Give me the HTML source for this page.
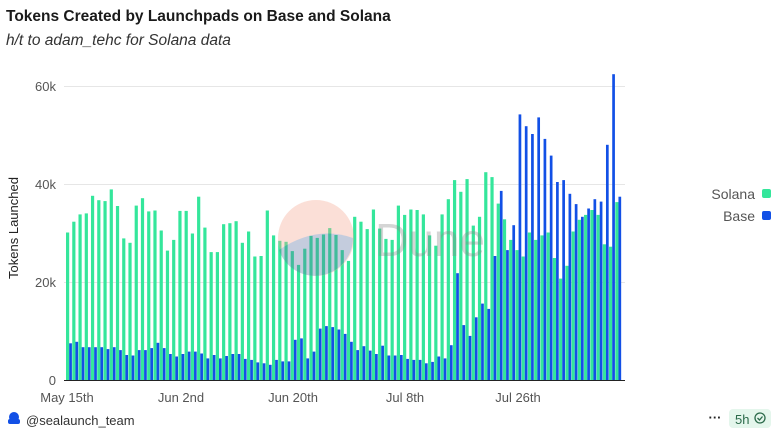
<!DOCTYPE html>
<html><head><meta charset="utf-8"><style>
body{margin:0;background:#fff;width:778px;height:437px;overflow:hidden;font-family:"Liberation Sans",sans-serif;}
</style></head><body>
<svg width="778" height="437" xmlns="http://www.w3.org/2000/svg" id="s">
<text x="6" y="21" font-size="15.5" font-weight="bold" fill="#1a1a1a" font-family="Liberation Sans, sans-serif">Tokens Created by Launchpads on Base and Solana</text>
<text x="6" y="45" font-size="15.5" font-style="italic" fill="#333" font-family="Liberation Sans, sans-serif">h/t to adam_tehc for Solana data</text>
<g stroke="#e6e6e6" stroke-width="1">
<line x1="64" x2="625" y1="86.5" y2="86.5"/><line x1="64" x2="625" y1="184.5" y2="184.5"/><line x1="64" x2="625" y1="282.5" y2="282.5"/>
</g>
<g font-size="13" fill="#555" text-anchor="end" font-family="Liberation Sans, sans-serif">
<text x="56" y="91">60k</text><text x="56" y="189">40k</text><text x="56" y="287">20k</text><text x="56" y="385">0</text>
</g>
<text transform="translate(18,228) rotate(-90)" font-size="13" fill="#222" text-anchor="middle" font-family="Liberation Sans, sans-serif">Tokens Launched</text>
<g font-size="13" fill="#555" text-anchor="middle" font-family="Liberation Sans, sans-serif">
<text x="67" y="402">May 15th</text><text x="181" y="402">Jun 2nd</text><text x="293" y="402">Jun 20th</text><text x="405" y="402">Jul 8th</text><text x="518" y="402">Jul 26th</text>
</g>
<g id="bars"></g>
<line x1="64" x2="625" y1="380.5" y2="380.5" stroke="#222" stroke-width="1"/>
<g opacity="0.35">
<circle cx="316" cy="238" r="38" fill="#f4a58e"/>
<path d="M279,250 Q316,225 353,238 A38,38 0 0 1 279,250 Z" fill="#5a6fa0"/>
<text x="375" y="256" font-size="46" fill="#888" font-family="Liberation Sans, sans-serif">Dune</text>
</g>
<g font-size="14" fill="#555" text-anchor="end" font-family="Liberation Sans, sans-serif">
<text x="755" y="199">Solana</text><text x="755" y="221">Base</text>
</g>
<rect x="762" y="189" width="9" height="9" rx="2" fill="#34e69b"/>
<rect x="762" y="211" width="9" height="9" rx="2" fill="#1250e6"/>
<circle cx="14" cy="417" r="5" fill="#1250e6"/><rect x="8" y="419" width="12" height="5" rx="2" fill="#1250e6"/>
<text x="26" y="425" font-size="13" fill="#333" font-family="Liberation Sans, sans-serif">@sealaunch_team</text>
<text x="715" y="422" font-size="13" fill="#222" font-weight="bold" text-anchor="middle">···</text>
<rect x="729" y="409" width="42" height="19" rx="4" fill="#e4f6ec"/>
<text x="735" y="424" font-size="13" fill="#2b6a4a" font-family="Liberation Sans, sans-serif">5h</text>
<circle cx="760" cy="418" r="5" fill="none" stroke="#2b6a4a" stroke-width="1.3"/>
<path d="M757.5,418 l2,2 l3,-3.5" fill="none" stroke="#2b6a4a" stroke-width="1.3"/>
</svg>
<script>
var g=[30.1,32.3,33.8,34.0,37.6,36.7,36.5,38.9,35.5,28.9,28.0,35.6,37.1,34.4,34.6,30.5,26.4,28.6,34.5,34.5,29.9,37.4,31.1,26.1,26.1,31.8,32.0,32.4,28.0,30.3,25.2,25.3,34.6,29.5,28.4,28.2,26.3,23.5,26.8,29.4,29.0,29.7,31.0,29.6,26.5,24.3,
33.3,32.3,30.8,34.8,30.9,28.8,28.6,35.6,33.7,34.8,34.7,33.8,29.5,27.4,33.8,36.9,40.8,38.4,41.0,31.5,33.3,42.4,41.4,36.0,32.8,28.6,26.5,25.2,30.1,28.6,29.5,30.1,24.9,20.7,23.3,30.3,32.7,33.7,34.7,33.7,27.7,27.2,36.3];
var b=[7.5,7.8,6.7,6.7,6.7,6.7,6.3,6.7,6.1,5.1,5.0,6.1,6.1,6.5,7.6,6.5,5.3,4.8,5.3,5.8,5.8,5.4,4.4,5.1,4.4,4.9,5.3,5.3,4.3,4.1,3.6,3.4,3.1,4.1,3.8,3.8,8.2,8.5,4.4,5.8,10.5,11.0,10.8,10.3,9.4,7.8,
6.1,6.9,6.0,5.3,7.0,5.0,5.0,5.1,4.3,4.1,4.1,3.4,3.7,4.8,4.4,7.1,21.8,11.2,9.0,12.8,15.6,14.5,25.3,38.6,26.5,31.6,54.2,51.8,50.2,53.6,49.2,45.8,40.4,40.8,38.0,35.9,33.3,35.0,36.9,36.4,48.0,62.4,37.4];
var n=Math.min(g.length,b.length),h='',st=(621.5-66)/ (n) ;
for(var i=0;i<n;i++){var x=66+i*st;var gh=g[i]*4.9,bh=b[i]*4.9;
h+='<rect x="'+x.toFixed(2)+'" y="'+(380-gh).toFixed(1)+'" width="3.2" height="'+gh.toFixed(1)+'" fill="#34e69b"/>';
h+='<rect x="'+(x+3.2).toFixed(2)+'" y="'+(380-bh).toFixed(1)+'" width="2.7" height="'+bh.toFixed(1)+'" fill="#1250e6"/>';}
document.getElementById('bars').innerHTML=h;
</script>
</body></html>
